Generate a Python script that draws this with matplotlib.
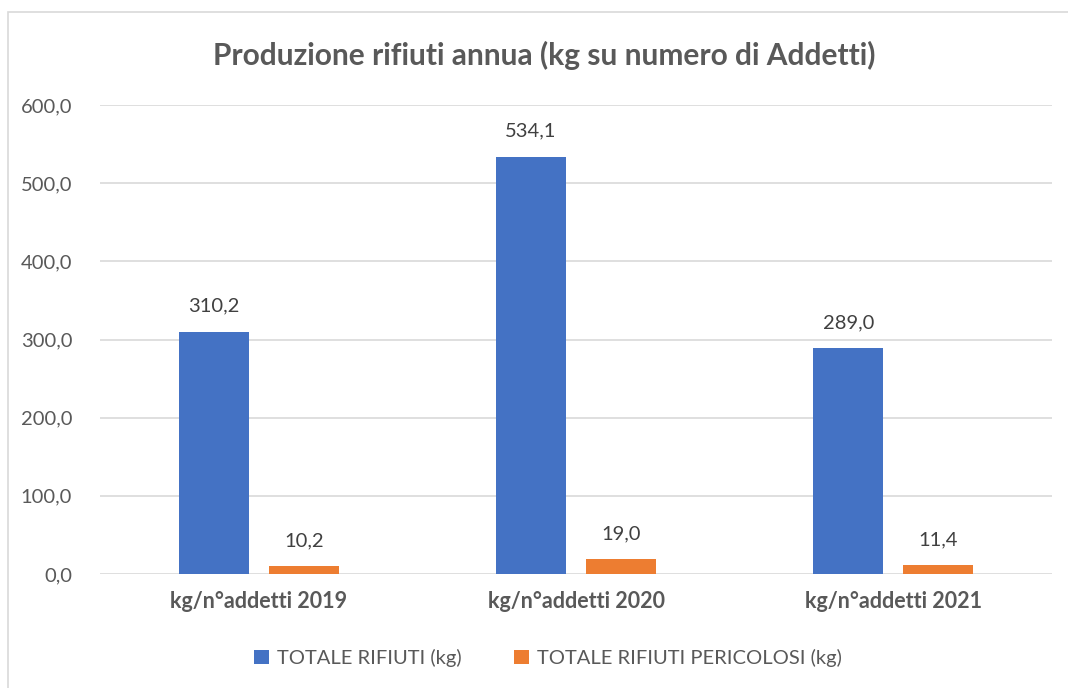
import matplotlib.pyplot as plt
import matplotlib.patches as mpatches
import numpy as np

categories = ["kg/n°addetti 2019", "kg/n°addetti 2020", "kg/n°addetti 2021"]
totale = [310.2, 534.1, 289.0]
pericolosi = [10.2, 19.0, 11.4]
series_names = ["TOTALE RIFIUTI (kg)", "TOTALE RIFIUTI PERICOLOSI (kg)"]
yticks = [0, 100, 200, 300, 400, 500, 600]

BLUE = "#4472C4"
ORANGE = "#ED7D31"
TXT = "#595959"

plt.rcParams['font.family'] = ['Lato', 'DejaVu Sans']

fig = plt.figure(figsize=(10.68, 6.88), dpi=100)
ax = fig.add_axes([100 / 1068, 1 - 574 / 688, 952 / 1068, 469 / 688])

# chart border (only left/top visible in the crop)
fig.patches.append(mpatches.Rectangle((8 / 1068, -0.1), 1.2, 1 - 12 / 688 + 0.1,
                                      transform=fig.transFigure, fill=False,
                                      edgecolor="#D9D9D9", linewidth=1.2))

x = np.arange(len(categories))
w = 0.22
off = 0.142
b1 = ax.bar(x - off, totale, w, color=BLUE, label=series_names[0], zorder=3)
b2 = ax.bar(x + off, pericolosi, w, color=ORANGE, label=series_names[1], zorder=3)

for bars in (b1, b2):
    for r in bars:
        h = r.get_height()
        ax.annotate(f"{h:.1f}".replace(".", ","), (r.get_x() + r.get_width() / 2, h),
                    xytext=(0, 12), textcoords="offset points", ha="center", va="bottom",
                    fontsize=14.5, color="#404040")

ax.set_xlim(-0.5, 2.5)
ax.set_ylim(0, 600)
ax.set_yticks(yticks)
ax.set_yticklabels([f"{v:.1f}".replace(".", ",") for v in yticks], fontsize=14.5, color=TXT)
ax.set_xticks(x)
ax.set_xticklabels(categories, fontsize=15.5, fontweight="bold", color=TXT)
ax.tick_params(axis="both", length=0)
ax.tick_params(axis="y", pad=20)
ax.tick_params(axis="x", pad=12)
ax.grid(axis="y", color="#D9D9D9", linewidth=1.2, zorder=0)
for s in ax.spines.values():
    s.set_visible(False)

fig.text(544 / 1068, 1 - 55 / 688, "Produzione rifiuti annua (kg su numero di Addetti)",
         ha="center", va="center", fontsize=21.5, fontweight="bold", color=TXT)

fig.legend(handles=[b1, b2], loc="center", bbox_to_anchor=(548 / 1068, 1 - 658 / 688),
           ncol=2, frameon=False, fontsize=14.5, handlelength=0.75, handleheight=0.75,
           handletextpad=0.4, columnspacing=2.6, labelcolor=TXT)

fig.savefig("out.png", dpi=100)
